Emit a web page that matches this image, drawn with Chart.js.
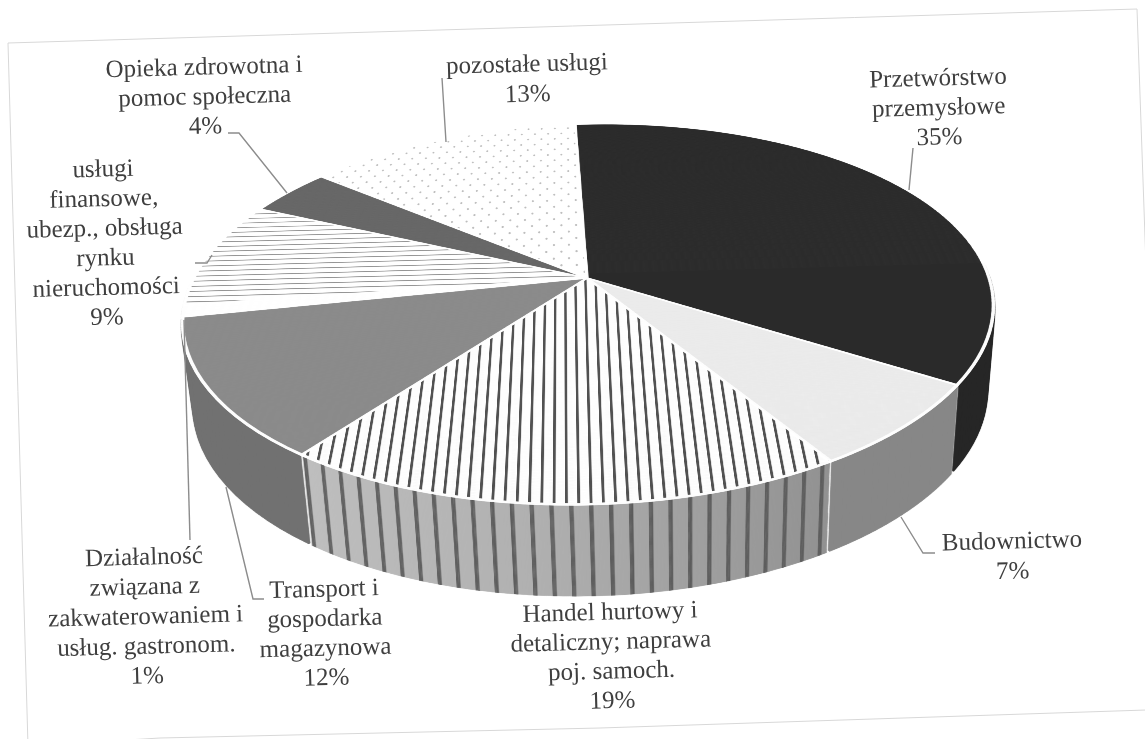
<!DOCTYPE html>
<html lang="pl"><head><meta charset="utf-8">
<style>html,body{margin:0;padding:0;background:#fff}canvas{display:block;filter:blur(.55px)}</style>
<script src="https://cdn.jsdelivr.net/npm/chart.js@4"></script></head>
<body><canvas id="c" width="1145" height="739"></canvas>
<script>
// ---- data ----
const categoryLines = [
  ['Przetwórstwo','przemysłowe'],
  ['Budownictwo'],
  ['Handel hurtowy i','detaliczny; naprawa','poj. samoch.'],
  ['Transport i','gospodarka','magazynowa'],
  ['Działalność','związana z','zakwaterowaniem i','usług. gastronom.'],
  ['usługi','finansowe,','ubezp., obsługa','rynku','nieruchomości'],
  ['Opieka zdrowotna i','pomoc społeczna'],
  ['pozostałe usługi']
];
const shares = [35,7,19,12,1,9,4,13];

// ---- label placement (centre x, centre y of first line, line step) ----
const labelAnchors = [
  [938,79,29.5],[1012,542,30],[610,613,29.5],[324,590,29.5],[144,558,29.7],[103,170,29.6],[204,68,29.5],[527,65,30]
];
const leaders = [
  [[913,148],[909,190]],
  [[935,553],[923,553],[901,517]],
  [],
  [[264,599],[253,599],[226,487]],
  [[184,320],[190,540]],
  [[195,263],[207,263],[212,255]],
  [[228,133],[239,133],[287,193]],
  [[442,78],[446,142]]
];
const frameLines = [[[8,43],[1137,9],[1150,380]],[[1146,710],[600,728],[160,738],[28,746]],[[8,43],[28,746]]];

// ---- perspective of the disc ----
const APEX = [587,278], RX = 398, A = 183, K = 0.19, DEPTH = 84, YGROW = 0.03, XSHRINK = 0.024, TILT = -1.55*Math.PI/180;
const START_ANGLE = -1.3;

function tile(w,h,paint){
  const c=document.createElement('canvas');c.width=w*2;c.height=h*2;
  const x=c.getContext('2d');x.scale(2,2);paint(x);
  const p=x.createPattern(c,'repeat');p.setTransform(new DOMMatrix().scale(.5));return p;
}
const stripesTop = tile(9,4,x=>{x.fillStyle='#fff';x.fillRect(0,0,9,4);x.fillStyle='#505050';x.fillRect(3,0,2.1,4);});
const linesTop = tile(4,10,x=>{x.fillStyle='#fff';x.fillRect(0,0,4,10);x.fillStyle='#8e8e8e';x.fillRect(0,4,4,1.7);});
const dotsTop = tile(14,28,x=>{x.fillStyle='#fff';x.fillRect(0,0,14,28);x.fillStyle='#bdbdbd';
  x.beginPath();x.ellipse(3.5,7,1,2.2,0,0,7);x.ellipse(10.5,21,1,2.2,0,0,7);x.fill();});
const stripesWall = tile(14.5,4,x=>{x.clearRect(0,0,14.5,4);x.fillStyle='#5a5a5a';x.fillRect(4,0,3.2,4);});

const topFill = ['#2a2a2a','#ececec',stripesTop,'#8b8b8b','#ffffff',linesTop,'#666666',dotsTop];
const wallFill = ['#262626','#878787','HANDEL','#717171','#dedede','#e2e2e2','#555555','#dddddd'];

const arcOpts = {borderAlign:'center',borderJoinStyle:'round',borderRadius:0,offset:0,circular:true,borderDash:[],borderDashOffset:0};
function drawArc(el,ctx,o){const s=el.options;el.options=Object.assign({},arcOpts,o);el.draw(ctx);el.options=s;}

function warp(ctx,src,el,t,fromV,toV,step){
  const R=el.outerRadius,cx=el.x,cy=el.y,m=3;
  for(let sy=cy+fromV*R;sy<cy+toV*R;sy+=step){
    const v0=(sy-cy)/R,v1=(sy+step-cy)/R,w0=1-K*v0,w1=1-K*v1;
    const y0=A*v0/w0*(1+YGROW*t)+DEPTH*t,y1=A*v1/w1*(1+YGROW*t)+DEPTH*t;
    const f=(RX/R)/((w0+w1)/2)*(1-XSHRINK*t);
    ctx.drawImage(src,(cx-R-m)*2,sy*2,(2*R+2*m)*2,step*2,-(R+m)*f,y0,(2*R+2*m)*f,y1-y0+.5);
  }
}

const pie3d = {
  id:'pie3d',
  beforeDatasetsDraw(chart){
    const els=chart.getDatasetMeta(0).data,ctx=chart.ctx,W=chart.width,H=chart.height;
    const el0=els[0],R=el0.outerRadius,cx=el0.x;
    const mk=()=>{const c=document.createElement('canvas');c.width=W*2;c.height=H*2;const x=c.getContext('2d');x.scale(2,2);return [c,x];};
    // side wall texture
    const [wc,wx]=mk();
    const grad=wx.createLinearGradient(cx-R*.75,0,cx+R*.65,0);
    grad.addColorStop(0,'#c2c2c2');grad.addColorStop(.45,'#b0b0b0');grad.addColorStop(1,'#8a8a8a');
    els.forEach(e=>drawArc(e,wx,{backgroundColor:'#ffffff',borderColor:'#ffffff',borderWidth:0,spacing:0}));
    els.forEach((e,i)=>{
      const fill=wallFill[i]==='HANDEL'?grad:wallFill[i];
      drawArc(e,wx,{backgroundColor:fill,borderColor:'#fff',borderWidth:0,spacing:3});
      if(wallFill[i]==='HANDEL')drawArc(e,wx,{backgroundColor:stripesWall,borderColor:'#fff',borderWidth:0,spacing:3});
    });
    // top surface texture
    const [tc,tx]=mk();
    els.forEach(e=>drawArc(e,tx,{backgroundColor:e.options.backgroundColor,borderColor:'#ffffff',borderWidth:2.8,spacing:0}));
    ctx.save();
    ctx.translate(APEX[0],APEX[1]);ctx.rotate(TILT);
    ctx.imageSmoothingEnabled=true;ctx.imageSmoothingQuality='high';
    const layers=95;
    for(let i=layers;i>0;i--)warp(ctx,wc,el0,i/layers,-0.03,1.01,1);
    warp(ctx,tc,el0,0,-1.02,1.02,.5);
    ctx.restore();
    return false;
  },
  afterDraw(chart){
    const ctx=chart.ctx;
    ctx.save();
    ctx.strokeStyle='#d8d8d8';ctx.lineWidth=1;
    frameLines.forEach(l=>{ctx.beginPath();l.forEach((p,i)=>i?ctx.lineTo(p[0],p[1]):ctx.moveTo(p[0],p[1]));ctx.stroke();});
    ctx.strokeStyle='#8c8c8c';ctx.lineWidth=1.4;
    leaders.forEach(l=>{if(!l.length)return;ctx.beginPath();l.forEach((p,i)=>i?ctx.lineTo(p[0],p[1]):ctx.moveTo(p[0],p[1]));ctx.stroke();});
    ctx.fillStyle='#3f3f3f';ctx.textAlign='center';ctx.textBaseline='middle';
    ctx.font='25px "Liberation Serif"';
    categoryLines.forEach((lines,i)=>{
      const [x,y,st]=labelAnchors[i];
      [...lines,shares[i]+'%'].forEach((s,j)=>{
        ctx.save();ctx.translate(x+j*0.8,y+j*st);ctx.rotate(TILT);ctx.fillText(s,0,0);ctx.restore();
      });
    });
    ctx.restore();
  }
};

new Chart(document.getElementById('c'),{
  type:'pie',
  data:{labels:categoryLines.map(l=>l.join(' ')),datasets:[{data:shares,backgroundColor:topFill,borderColor:'#ffffff',borderWidth:2.8}]},
  options:{responsive:false,animation:false,rotation:START_ANGLE,layout:{padding:10},
    plugins:{legend:{display:false},tooltip:{enabled:false}}},
  plugins:[pie3d]
});
</script></body></html>
